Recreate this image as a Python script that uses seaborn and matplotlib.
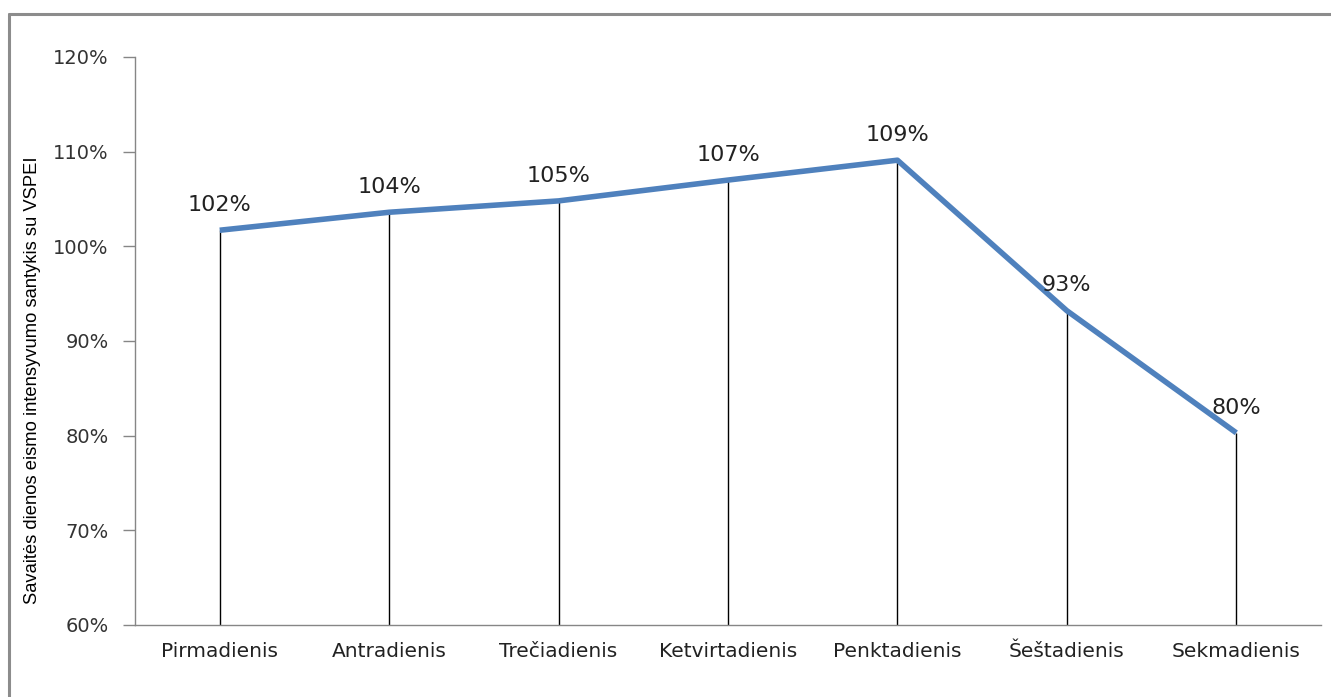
import matplotlib
matplotlib.use("Agg")
import matplotlib.pyplot as plt
from matplotlib.lines import Line2D
from matplotlib.ticker import FuncFormatter, MultipleLocator
import seaborn as sns
import pandas as pd
import numpy as np

days = ["Pirmadienis", "Antradienis", "Trečiadienis", "Ketvirtadienis",
        "Penktadienis", "Šeštadienis", "Sekmadienis"]
values = [1.017, 1.036, 1.048, 1.070, 1.091, 0.932, 0.803]
labels = ["102%", "104%", "105%", "107%", "109%", "93%", "80%"]
ylabel = "Savaitės dienos eismo intensyvumo santykis su VSPEI"

sns.set_theme(style="white")
plt.rcParams['font.family'] = ['DejaVu Sans']

fig = plt.figure(figsize=(13.31, 6.97), dpi=100)
ax = fig.add_axes([135/1331, 1-625/697, (1321-135)/1331, (625-57)/697])

df = pd.DataFrame({"day": days, "value": values, "pos": np.arange(len(days))})
sns.lineplot(data=df, x="pos", y="value", ax=ax, color="#4F81BD", linewidth=4,
             solid_capstyle="butt", zorder=3)
ax.vlines(df["pos"], 0.6, df["value"], color="black", linewidth=1, zorder=2)

for p, v, t in zip(df["pos"], values, labels):
    ax.annotate(t, (p, v), xytext=(0, 11), textcoords="offset points",
                ha="center", va="bottom", fontsize=16, color="#222222")

ax.set_xlim(-0.5, len(days) - 0.5)
ax.set_ylim(0.6, 1.2)
ax.yaxis.set_major_locator(MultipleLocator(0.1))
ax.yaxis.set_major_formatter(FuncFormatter(lambda y, _: f"{round(y*100):d}%"))
ax.set_xticks(df["pos"])
ax.set_xticklabels(days)

for s in ["top", "right"]:
    ax.spines[s].set_visible(False)
for s in ["left", "bottom"]:
    ax.spines[s].set_color("#868686")
    ax.spines[s].set_linewidth(1)

ax.tick_params(axis="y", which="major", direction="out", length=9, width=1,
               color="#868686", labelsize=14, labelcolor="#333333", pad=10, left=True)
ax.tick_params(axis="x", which="major", length=0, labelsize=14.5,
               labelcolor="#222222", pad=12)
ax.set_xlabel("")
ax.set_ylabel(ylabel, fontsize=13.2, family=['Liberation Sans Narrow', 'Liberation Sans', 'DejaVu Sans'],
              color="black")
ax.yaxis.set_label_coords(-94/1186, 1 - (380 - 57) / 568)

# outer frame (gray border)
fig.add_artist(Line2D([9/1331, 1.0], [1-14/697, 1-14/697], color="#8c8c8c", linewidth=2.2,
                      transform=fig.transFigure))
fig.add_artist(Line2D([9/1331, 9/1331], [0.0, 1-14/697], color="#8c8c8c", linewidth=2.2,
                      transform=fig.transFigure))

fig.savefig("out.png", dpi=100)
